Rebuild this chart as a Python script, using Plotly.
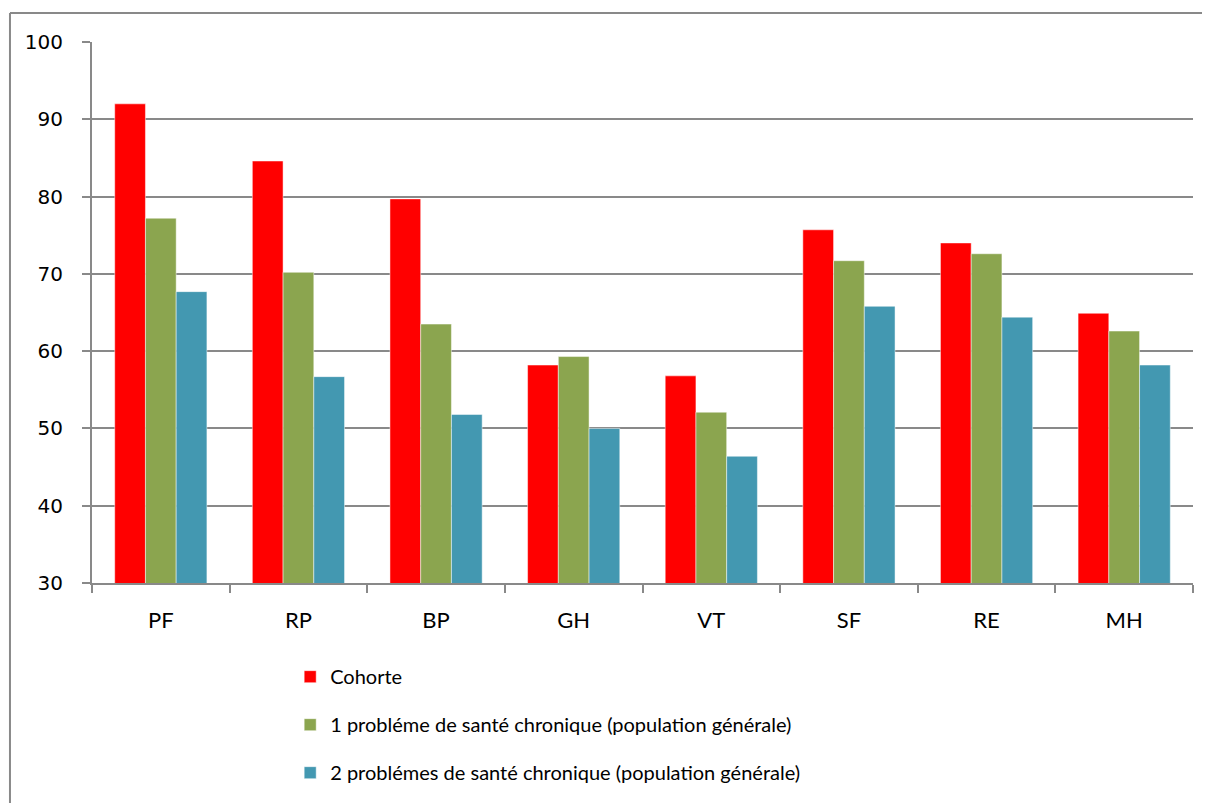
import plotly.graph_objects as go

categories = ["PF", "RP", "BP", "GH", "VT", "SF", "RE", "MH"]
cohorte = [92.0, 84.6, 79.7, 58.2, 56.8, 75.7, 74.0, 64.9]
un_probleme = [77.2, 70.2, 63.5, 59.3, 52.1, 71.7, 72.6, 62.6]
deux_problemes = [67.7, 56.7, 51.8, 50.0, 46.4, 65.8, 64.4, 58.2]

series = [
    ("Cohorte", cohorte, "#FF0000"),
    ("1 probléme de santé chronique (population générale)", un_probleme, "#8BA54F"),
    ("2 problémes de santé chronique (population générale)", deux_problemes, "#4398B1"),
]

AXIS_GREY = "#898989"

fig = go.Figure()
for i, (name, values, color) in enumerate(series):
    fig.add_trace(
        go.Bar(
            name=name,
            x=categories,
            y=values,
            marker=dict(color=color, line=dict(width=0.8, color="rgba(255,255,255,0.6)")),
            legendgroup=f"g{i}",
        )
    )

# page body adds 8px around the figure, so size is reduced accordingly
fig.update_layout(
    width=1202,
    height=795,
    autosize=False,
    barmode="group",
    bargap=0.33,
    bargroupgap=0,
    plot_bgcolor="white",
    paper_bgcolor="white",
    margin=dict(l=84, r=17, t=34, b=219),
    font=dict(family="Lato, Open Sans, sans-serif", color="black"),
    showlegend=True,
    legend=dict(
        x=0.18,
        xanchor="left",
        y=-0.135,
        yanchor="top",
        orientation="v",
        font=dict(size=20, family="Lato"),
        tracegroupgap=19,
        bgcolor="rgba(0,0,0,0)",
    ),
    xaxis=dict(
        showline=True,
        linecolor=AXIS_GREY,
        linewidth=2,
        ticks="outside",
        ticklen=8,
        tickwidth=2,
        tickcolor=AXIS_GREY,
        tickson="boundaries",
        tickfont=dict(size=22, family="Lato"),
        ticklabelstandoff=17,
        showgrid=False,
    ),
    yaxis=dict(
        range=[30, 100],
        dtick=10,
        showline=True,
        linecolor=AXIS_GREY,
        linewidth=2,
        ticks="outside",
        ticklen=8,
        tickwidth=2,
        tickcolor=AXIS_GREY,
        showgrid=True,
        gridcolor=AXIS_GREY,
        gridwidth=2,
        tickfont=dict(size=20, family="DejaVu Sans"),
        ticklabelstandoff=15,
        zeroline=False,
    ),
)

# chart frame (top and left edges visible in the reference)
fig.add_shape(type="line", xref="paper", yref="paper",
              x0=-0.0745, x1=1.2, y0=1.0535, y1=1.0535,
              line=dict(color=AXIS_GREY, width=2), layer="below")
fig.add_shape(type="line", xref="paper", yref="paper",
              x0=-0.0745, x1=-0.0745, y0=1.0535, y1=-0.5,
              line=dict(color=AXIS_GREY, width=2), layer="below")

fig.write_html("out.html")
